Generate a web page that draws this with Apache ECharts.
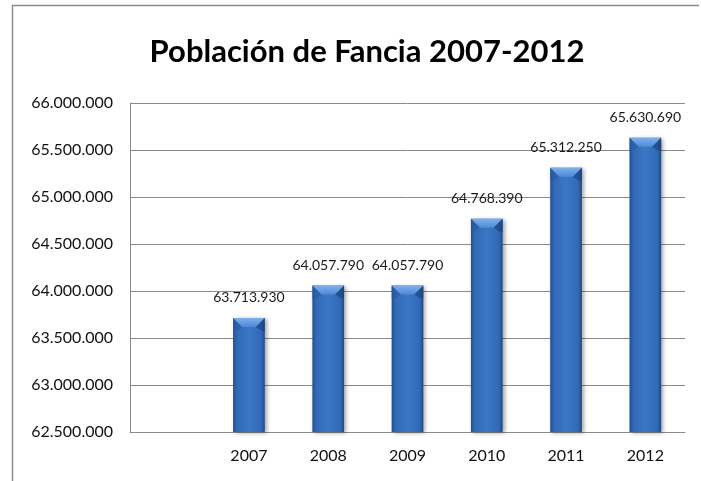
<!DOCTYPE html>
<html>
<head>
<meta charset="utf-8">
<script src="https://cdn.jsdelivr.net/npm/echarts@6/dist/echarts.min.js"></script>
<style>
  html, body { margin: 0; padding: 0; background: #fff; }
  #chart { width: 701px; height: 481px; }
</style>
</head>
<body>
<div id="chart"></div>
<script>
// Población de Francia por año (primera categoría vacía, como en la hoja original)
var categories = ['', '2007', '2008', '2009', '2010', '2011', '2012'];
var population = [null, 63713930, 64057790, 64057790, 64768390, 65312250, 65630690];
var axisMin = 62500000;
var axisMax = 66000000;
var axisStep = 500000;

var FONT = 'Lato, "Open Sans", sans-serif';

function fmt(v) {
  return String(Math.round(v)).replace(/\B(?=(\d{3})+(?!\d))/g, '.');
}

var chart = echarts.init(document.getElementById('chart'), null, { renderer: 'canvas' });

var bodyGradient = new echarts.graphic.LinearGradient(0, 0, 1, 0, [
  { offset: 0, color: '#214f8f' },
  { offset: 0.12, color: '#3169b4' },
  { offset: 0.5, color: '#3b77c6' },
  { offset: 0.88, color: '#3169b4' },
  { offset: 1, color: '#1f4a86' }
]);

chart.setOption({
  animation: false,
  backgroundColor: '#ffffff',
  title: {
    text: 'Población de Fancia 2007-2012',
    left: 362,
    textAlign: 'center',
    top: 31,
    textStyle: { fontFamily: FONT, fontWeight: 'bold', fontSize: 31, color: '#000' }
  },
  graphic: [{
    type: 'polyline',
    shape: { points: [[12.5, 490], [12.5, 5.5], [699, 5.5]] },
    style: { stroke: '#8c8c8c', lineWidth: 1.5, fill: null },
    silent: true
  }],
  grid: { left: 130, right: 16, top: 103, bottom: 49 },
  xAxis: {
    type: 'category',
    data: categories,
    axisLine: { show: true, lineStyle: { color: '#8a8a8a', width: 1 } },
    axisTick: { show: false },
    axisLabel: { fontFamily: FONT, fontSize: 16, color: '#111', margin: 16 }
  },
  yAxis: {
    type: 'value',
    min: axisMin,
    max: axisMax,
    interval: axisStep,
    axisLine: { show: true, lineStyle: { color: '#8a8a8a', width: 1 } },
    axisTick: { show: false },
    splitLine: { lineStyle: { color: '#8a8a8a', width: 1 } },
    axisLabel: {
      fontFamily: FONT, fontSize: 16, color: '#111', margin: 17,
      formatter: function (v) { return fmt(v); }
    }
  },
  series: [{
    type: 'bar',
    data: population,
    barWidth: '40%',
    itemStyle: {
      color: bodyGradient,
      shadowColor: 'rgba(0,0,0,0.35)',
      shadowBlur: 4,
      shadowOffsetX: 2,
      shadowOffsetY: 1
    },
    label: {
      show: true,
      position: 'top',
      distance: 13,
      fontFamily: FONT,
      fontSize: 14,
      color: '#1a1a1a',
      formatter: function (p) { return fmt(p.value); }
    }
  }, {
    // bevelled top face of each bar
    type: 'custom',
    data: population.map(function (v, i) { return [i, v]; }),
    z: 3,
    silent: true,
    renderItem: function (params, api) {
      var v = api.value(1);
      if (v == null || isNaN(v)) return null;
      var top = api.coord([api.value(0), v]);
      var w = api.size([1, 0])[0] * 0.4;
      var x0 = top[0] - w / 2, x1 = top[0] + w / 2, y = top[1];
      var b = 9;
      return {
        type: 'group',
        children: [{
          type: 'polygon',
          shape: { points: [[x0, y], [x1, y], [x1 - b, y + b], [x0 + b, y + b]] },
          style: {
            fill: new echarts.graphic.LinearGradient(0, 0, 0, 1, [
              { offset: 0, color: '#7fb0ec' },
              { offset: 1, color: '#4f8ad6' }
            ])
          }
        }, {
          type: 'polygon',
          shape: { points: [[x0, y], [x0 + b, y + b], [x0 + 3, y + b + 4], [x0, y + b + 4]] },
          style: { fill: 'rgba(40,90,160,0.55)' }
        }, {
          type: 'polygon',
          shape: { points: [[x1, y], [x1 - b, y + b], [x1 - 3, y + b + 4], [x1, y + b + 4]] },
          style: { fill: 'rgba(25,60,115,0.55)' }
        }]
      };
    }
  }]
});
</script>
</body>
</html>
